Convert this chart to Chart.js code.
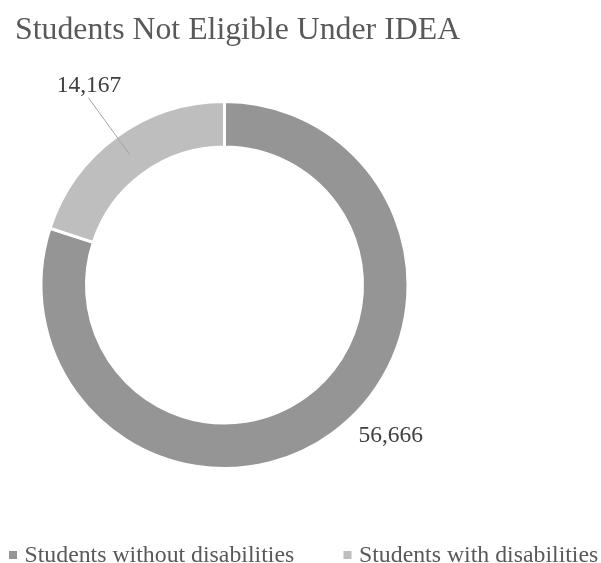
<!DOCTYPE html>
<html>
<head>
<meta charset="utf-8">
<script src="https://cdn.jsdelivr.net/npm/chart.js@4/dist/chart.umd.min.js"></script>
<style>
  html, body { margin: 0; padding: 0; background: #fff; }
  canvas { display: block; }
</style>
</head>
<body>
<canvas id="grafica" width="601" height="563"></canvas>
<script>
// datos del gráfico
const chartTitle = 'Students Not Eligible Under IDEA';
const categories = ['Students without disabilities', 'Students with disabilities'];
const counts = [56666, 14167];
const valueLabels = ['56,666', '14,167'];

// estilos
const sliceColors = ['#959595', '#bebebe'];
const serif = '"Liberation Serif", "Times New Roman", serif';

// ajuste de cada etiqueta: distancia al centro y giro (grados) respecto al punto medio
const labelRadius = [223, 243];
const labelNudge = [-12.2, 2.1];
const hasLeader = [false, true];

const textosPlugin = {
  id: 'textos',
  afterDraw(chart) {
    const ctx = chart.ctx;
    const arcs = chart.getDatasetMeta(0).data;
    ctx.save();

    // título
    ctx.font = '31.8px ' + serif;
    ctx.fillStyle = '#595959';
    ctx.textAlign = 'left';
    ctx.textBaseline = 'alphabetic';
    ctx.fillText(chartTitle, 15, 39);

    // etiquetas de valores
    arcs.forEach((arc, i) => {
      const p = arc.getProps(['x', 'y', 'startAngle', 'endAngle', 'innerRadius', 'outerRadius'], true);
      const mid = (p.startAngle + p.endAngle) / 2;
      if (hasLeader[i]) {
        const r1 = (p.innerRadius + p.outerRadius) / 2;
        const r2 = p.outerRadius + 48;
        ctx.strokeStyle = '#a3a3a3';
        ctx.lineWidth = 1;
        ctx.beginPath();
        ctx.moveTo(p.x + Math.cos(mid) * r1, p.y + Math.sin(mid) * r1);
        ctx.lineTo(p.x + Math.cos(mid) * r2, p.y + Math.sin(mid) * r2);
        ctx.stroke();
      }
      const a = mid + labelNudge[i] * Math.PI / 180;
      const lx = p.x + Math.cos(a) * labelRadius[i];
      const ly = p.y + Math.sin(a) * labelRadius[i];
      ctx.font = '23.5px ' + serif;
      ctx.fillStyle = '#404040';
      ctx.textAlign = 'center';
      ctx.textBaseline = 'alphabetic';
      ctx.fillText(valueLabels[i], lx, ly + 8.5);
    });

    // leyenda
    const legendX = [9, 343.5];
    ctx.font = '23.8px ' + serif;
    ctx.textAlign = 'left';
    categories.forEach((cat, i) => {
      ctx.fillStyle = sliceColors[i];
      ctx.fillRect(legendX[i], 551, 8, 8);
      ctx.fillStyle = '#595959';
      ctx.fillText(cat, legendX[i] + 15.5, 561.5);
    });
    ctx.restore();
  }
};

new Chart(document.getElementById('grafica'), {
  type: 'doughnut',
  data: {
    labels: categories,
    datasets: [{
      data: counts,
      backgroundColor: sliceColors,
      borderColor: '#ffffff',
      borderWidth: 3,
      hoverOffset: 0
    }]
  },
  options: {
    responsive: false,
    animation: false,
    cutout: '75.2%',
    layout: { padding: { left: 39.5, right: 191.5, top: 100, bottom: 93 } },
    plugins: {
      legend: { display: false },
      title: { display: false },
      tooltip: { enabled: false }
    }
  },
  plugins: [textosPlugin]
});
</script>
</body>
</html>
